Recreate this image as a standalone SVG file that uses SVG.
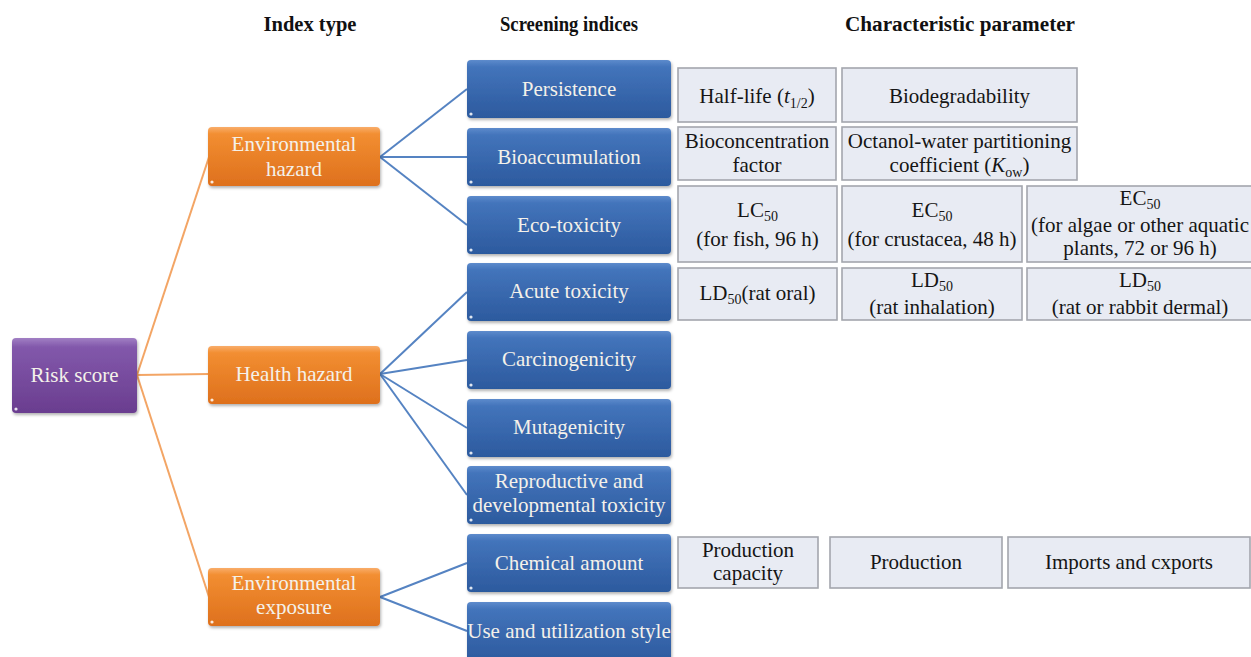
<svg xmlns="http://www.w3.org/2000/svg" width="1251" height="657" viewBox="0 0 1251 657" font-family="Liberation Serif, Times New Roman, serif">
<defs>
<linearGradient id="gBlue" x1="0" y1="0" x2="0" y2="1">
<stop offset="0" stop-color="#5d8bcc"/><stop offset="0.12" stop-color="#4374bb"/><stop offset="1" stop-color="#2c5a9e"/>
</linearGradient>
<linearGradient id="gOrange" x1="0" y1="0" x2="0" y2="1">
<stop offset="0" stop-color="#f9ad6a"/><stop offset="0.12" stop-color="#f28e31"/><stop offset="1" stop-color="#de701d"/>
</linearGradient>
<linearGradient id="gPurple" x1="0" y1="0" x2="0" y2="1">
<stop offset="0" stop-color="#a17fc4"/><stop offset="0.12" stop-color="#8258ab"/><stop offset="1" stop-color="#6a3d8f"/>
</linearGradient>
<filter id="sh" x="-10%" y="-10%" width="120%" height="130%">
<feDropShadow dx="1" dy="2" stdDeviation="1.5" flood-color="#000" flood-opacity="0.3"/>
</filter>
<style>
.hdr{font-weight:bold;font-size:20px;fill:#111;text-anchor:middle}
.lt{font-size:21px;fill:#f4f1ea;text-anchor:middle}
.dk{font-size:21px;fill:#151515;text-anchor:middle}
.blue{fill:url(#gBlue);filter:url(#sh)}
.orange{fill:url(#gOrange);filter:url(#sh)}
.purple{fill:url(#gPurple);filter:url(#sh)}
.gray{fill:#e8ebf3;stroke:#a3a6ad;stroke-width:1.6}
.dot{fill:#fff;opacity:0.85}
.oc{stroke:#f3a565;stroke-width:2;fill:none}
.bc{stroke:#5583c2;stroke-width:2;fill:none}
</style>
</defs>
<rect width="1251" height="657" fill="#fff"/>

<g id="headers">
<text class="hdr" x="310" y="31" textLength="93" lengthAdjust="spacingAndGlyphs">Index type</text>
<text class="hdr" x="569" y="31" textLength="138" lengthAdjust="spacingAndGlyphs">Screening indices</text>
<text class="hdr" x="960" y="31" textLength="230" lengthAdjust="spacingAndGlyphs">Characteristic parameter</text>
</g>

<g id="connectors">
<line class="oc" x1="137" y1="375" x2="209" y2="157"/>
<line class="oc" x1="137" y1="375" x2="209" y2="374"/>
<line class="oc" x1="137" y1="375" x2="209" y2="597"/>
<line class="bc" x1="380" y1="157" x2="467" y2="89"/>
<line class="bc" x1="380" y1="157" x2="467" y2="157"/>
<line class="bc" x1="380" y1="157" x2="467" y2="225"/>
<line class="bc" x1="380" y1="374" x2="467" y2="292"/>
<line class="bc" x1="380" y1="374" x2="467" y2="360"/>
<line class="bc" x1="380" y1="374" x2="467" y2="428"/>
<line class="bc" x1="380" y1="374" x2="467" y2="495"/>
<line class="bc" x1="380" y1="597" x2="467" y2="563"/>
<line class="bc" x1="380" y1="597" x2="467" y2="631"/>
</g>

<g id="risk-score">
<rect class="purple" x="12" y="338" width="125" height="75" rx="4"/>
<circle class="dot" cx="16" cy="409" r="1.6"/>
<text class="lt" x="74.5" y="382">Risk score</text>
</g>

<g id="environmental-hazard">
<rect class="orange" x="208" y="127" width="172" height="59" rx="4"/>
<circle class="dot" cx="212" cy="182" r="1.6"/>
<text class="lt" x="294" y="151">Environmental</text>
<text class="lt" x="294" y="176">hazard</text>
</g>
<g id="health-hazard">
<rect class="orange" x="208" y="346" width="172" height="58" rx="4"/>
<circle class="dot" cx="212" cy="400" r="1.6"/>
<text class="lt" x="294" y="381">Health hazard</text>
</g>
<g id="environmental-exposure">
<rect class="orange" x="208" y="568" width="172" height="58" rx="4"/>
<circle class="dot" cx="212" cy="622" r="1.6"/>
<text class="lt" x="294" y="590">Environmental</text>
<text class="lt" x="294" y="614">exposure</text>
</g>

<g id="persistence">
<rect class="blue" x="467" y="60" width="204" height="58" rx="4"/>
<circle class="dot" cx="471" cy="114" r="1.6"/>
<text class="lt" x="569" y="96">Persistence</text>
</g>
<g id="bioaccumulation">
<rect class="blue" x="467" y="128" width="204" height="58" rx="4"/>
<circle class="dot" cx="471" cy="182" r="1.6"/>
<text class="lt" x="569" y="164">Bioaccumulation</text>
</g>
<g id="eco-toxicity">
<rect class="blue" x="467" y="196" width="204" height="58" rx="4"/>
<circle class="dot" cx="471" cy="250" r="1.6"/>
<text class="lt" x="569" y="232">Eco-toxicity</text>
</g>
<g id="acute-toxicity">
<rect class="blue" x="467" y="263" width="204" height="58" rx="4"/>
<circle class="dot" cx="471" cy="317" r="1.6"/>
<text class="lt" x="569" y="298">Acute toxicity</text>
</g>
<g id="carcinogenicity">
<rect class="blue" x="467" y="331" width="204" height="58" rx="4"/>
<circle class="dot" cx="471" cy="385" r="1.6"/>
<text class="lt" x="569" y="366">Carcinogenicity</text>
</g>
<g id="mutagenicity">
<rect class="blue" x="467" y="399" width="204" height="58" rx="4"/>
<circle class="dot" cx="471" cy="453" r="1.6"/>
<text class="lt" x="569" y="434">Mutagenicity</text>
</g>
<g id="reproductive">
<rect class="blue" x="467" y="466" width="204" height="58" rx="4"/>
<circle class="dot" cx="471" cy="520" r="1.6"/>
<text class="lt" x="569" y="488">Reproductive and</text>
<text class="lt" x="569" y="512">developmental toxicity</text>
</g>
<g id="chemical-amount">
<rect class="blue" x="467" y="534" width="204" height="58" rx="4"/>
<circle class="dot" cx="471" cy="588" r="1.6"/>
<text class="lt" x="569" y="570">Chemical amount</text>
</g>
<g id="use-utilization">
<rect class="blue" x="467" y="602" width="204" height="60" rx="4"/>
<text class="lt" x="569" y="638">Use and utilization style</text>
</g>

<g id="half-life">
<rect class="gray" x="678" y="68" width="158" height="54"/>
<text class="dk" x="757" y="103">Half-life (<tspan font-style="italic">t</tspan><tspan font-size="14" dy="5">1/2</tspan><tspan dy="-5">)</tspan></text>
</g>
<g id="biodegradability">
<rect class="gray" x="842" y="68" width="235" height="54"/>
<text class="dk" x="959.5" y="103">Biodegradability</text>
</g>
<g id="bcf">
<rect class="gray" x="678" y="127" width="158" height="53"/>
<text class="dk" x="757" y="148">Bioconcentration</text>
<text class="dk" x="757" y="172">factor</text>
</g>
<g id="kow">
<rect class="gray" x="842" y="127" width="235" height="53"/>
<text class="dk" x="959.5" y="148">Octanol-water partitioning</text>
<text class="dk" x="959.5" y="172">coefficient (<tspan font-style="italic">K</tspan><tspan font-size="14" dy="5">ow</tspan><tspan dy="-5">)</tspan></text>
</g>
<g id="lc50-fish">
<rect class="gray" x="678" y="186" width="159" height="76"/>
<text class="dk" x="757.5" y="217">LC<tspan font-size="14" dy="4">50</tspan></text>
<text class="dk" x="757.5" y="246">(for fish, 96 h)</text>
</g>
<g id="ec50-crustacea">
<rect class="gray" x="842" y="186" width="180" height="76"/>
<text class="dk" x="932" y="217">EC<tspan font-size="14" dy="4">50</tspan></text>
<text class="dk" x="932" y="246">(for crustacea, 48 h)</text>
</g>
<g id="ec50-algae">
<rect class="gray" x="1027" y="186" width="230" height="76"/>
<text class="dk" x="1140" y="205">EC<tspan font-size="14" dy="4">50</tspan></text>
<text class="dk" x="1140" y="232">(for algae or other aquatic</text>
<text class="dk" x="1140" y="255">plants, 72 or 96 h)</text>
</g>
<g id="ld50-oral">
<rect class="gray" x="678" y="268" width="159" height="52"/>
<text class="dk" x="757.5" y="300">LD<tspan font-size="14" dy="4">50</tspan><tspan dy="-4">(rat oral)</tspan></text>
</g>
<g id="ld50-inhalation">
<rect class="gray" x="842" y="268" width="180" height="52"/>
<text class="dk" x="932" y="287">LD<tspan font-size="14" dy="4">50</tspan></text>
<text class="dk" x="932" y="314">(rat inhalation)</text>
</g>
<g id="ld50-dermal">
<rect class="gray" x="1027" y="268" width="230" height="52"/>
<text class="dk" x="1140" y="287">LD<tspan font-size="14" dy="4">50</tspan></text>
<text class="dk" x="1140" y="314">(rat or rabbit dermal)</text>
</g>
<g id="production-capacity">
<rect class="gray" x="678" y="537" width="140" height="51"/>
<text class="dk" x="748" y="557">Production</text>
<text class="dk" x="748" y="580">capacity</text>
</g>
<g id="production">
<rect class="gray" x="830" y="537" width="172" height="51"/>
<text class="dk" x="916" y="569">Production</text>
</g>
<g id="imports-exports">
<rect class="gray" x="1008" y="537" width="242" height="51"/>
<text class="dk" x="1129" y="569">Imports and cxports</text>
</g>
</svg>
